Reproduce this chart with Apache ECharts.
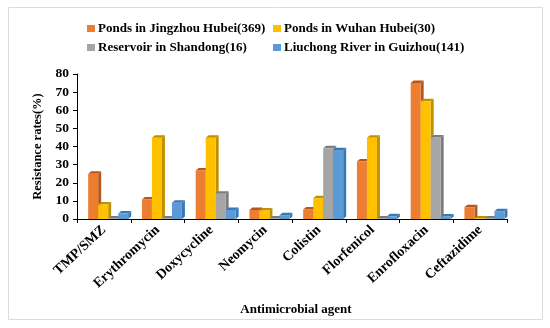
<!DOCTYPE html>
<html><head><meta charset="utf-8">
<script src="https://cdn.jsdelivr.net/npm/echarts@6/dist/echarts.min.js"></script>
<style>html,body{margin:0;padding:0;background:#fff}#c{width:550px;height:328px}</style>
</head><body><div id="c"></div>
<script>
const categories = ['TMP/SMZ','Erythromycin','Doxycycline','Neomycin','Colistin','Florfenicol','Enrofloxacin','Ceftazidime'];
const seriesNames = ['Ponds in Jingzhou Hubei(369)','Ponds in Wuhan Hubei(30)','Reservoir in Shandong(16)','Liuchong River in Guizhou(141)'];
const jingzhou = [24.9, 10.8, 26.8, 5.0, 5.3, 31.7, 75.0, 6.5];
const wuhan    = [8.0, 44.8, 44.8, 4.7, 11.5, 44.8, 65.0, 0.3];
const shandong = [0.3, 0.3, 14.0, 0.3, 39.0, 0.3, 45.0, 0.3];
const guizhou  = [3.0, 9.0, 5.0, 2.1, 38.0, 1.5, 1.4, 4.3];
const yTicks = [0, 80, 10];
const colors = ['#ED7D31','#FFC000','#A5A5A5','#5B9BD5'];
const sideColors = ['#B5561A','#BF9000','#7C7C7C','#3A78B5'];
const allData = [jingzhou, wuhan, shandong, guizhou];
const FONT = 'Liberation Serif';

function makeRender(sIdx, color, side){
  return function(params, api){
    const cat = api.value(0), v = api.value(1);
    const base = api.coord([cat, 0]);
    const top = api.coord([cat, v]);
    const band = api.size([1, 0])[0];
    const w = band * 0.186;
    const dx = 3, dy = 2.5;
    const x = base[0] - 2 * w + band * 0.08 + sIdx * w;
    const y0 = base[1], y1 = top[1];
    return {
      type: 'group',
      children: [
        {type:'polygon', shape:{points:[[x+w,y1],[x+w+dx,y1-dy],[x+w+dx,y0-dy],[x+w,y0]]}, style:{fill:side}},
        {type:'polygon', shape:{points:[[x,y1],[x+dx,y1-dy],[x+w+dx,y1-dy],[x+w,y1]]}, style:{fill:side}},
        {type:'rect', shape:{x:x, y:y1, width:w, height:Math.max(0,y0-y1)}, style:{fill:color}}
      ]
    };
  };
}

const series = seriesNames.map((n, i) => ({
  name: n,
  type: 'custom',
  renderItem: makeRender(i, colors[i], sideColors[i]),
  itemStyle: {color: colors[i]},
  encode: {x: 0, y: 1},
  data: allData[i].map((v, k) => [k, v])
}));

const legendPos = [[82,17],[268,17],[82,36],[268,36]];
const legend = seriesNames.map((n, i) => ({
  data: [n], left: legendPos[i][0], top: legendPos[i][1],
  icon: 'rect', itemWidth: 8, itemHeight: 7, itemGap: 0,
  textStyle: {fontFamily: FONT, fontWeight: 'bold', fontSize: 13, color: '#000', padding:[0,0,0,-2]},
  selectedMode: false
}));

const chart = echarts.init(document.getElementById('c'));
chart.setOption({
  animation: false,
  color: colors,
  graphic: [
    {type:'rect', shape:{x:8.5, y:7.5, width:534, height:312}, style:{fill:'none', stroke:'#dcdcdc', lineWidth:1}, silent:true}
  ],
  legend: legend,
  grid: {left: 77, right: 43, top: 74, bottom: 109},
  xAxis: {
    type: 'category', data: categories, boundaryGap: true,
    name: 'Antimicrobial agent', nameLocation: 'middle', nameGap: 84,
    nameTextStyle: {fontFamily: FONT, fontWeight: 'bold', fontSize: 13, color: '#000', padding:[0,0,0,8]},
    axisLine: {lineStyle: {color: '#000', width: 1}},
    axisTick: {show: true, length: 4, lineStyle: {color: '#000'}},
    axisLabel: {rotate: 43, fontFamily: FONT, fontWeight: 'bold', fontSize: 14, color: '#000', margin: 9, interval: 0},
    splitLine: {show: false}
  },
  yAxis: {
    type: 'value', min: yTicks[0], max: yTicks[1], interval: yTicks[2],
    name: 'Resistance rates(%)', nameLocation: 'middle', nameGap: 26,
    nameTextStyle: {fontFamily: FONT, fontWeight: 'bold', fontSize: 12.5, color: '#000'},
    axisLine: {show: true, lineStyle: {color: '#000', width: 1}},
    axisTick: {show: true, length: 4, lineStyle: {color: '#000'}},
    axisLabel: {fontFamily: FONT, fontWeight: 'bold', fontSize: 13.5, color: '#000', margin: 8},
    splitLine: {show: false}
  },
  series: series
});
</script></body></html>
